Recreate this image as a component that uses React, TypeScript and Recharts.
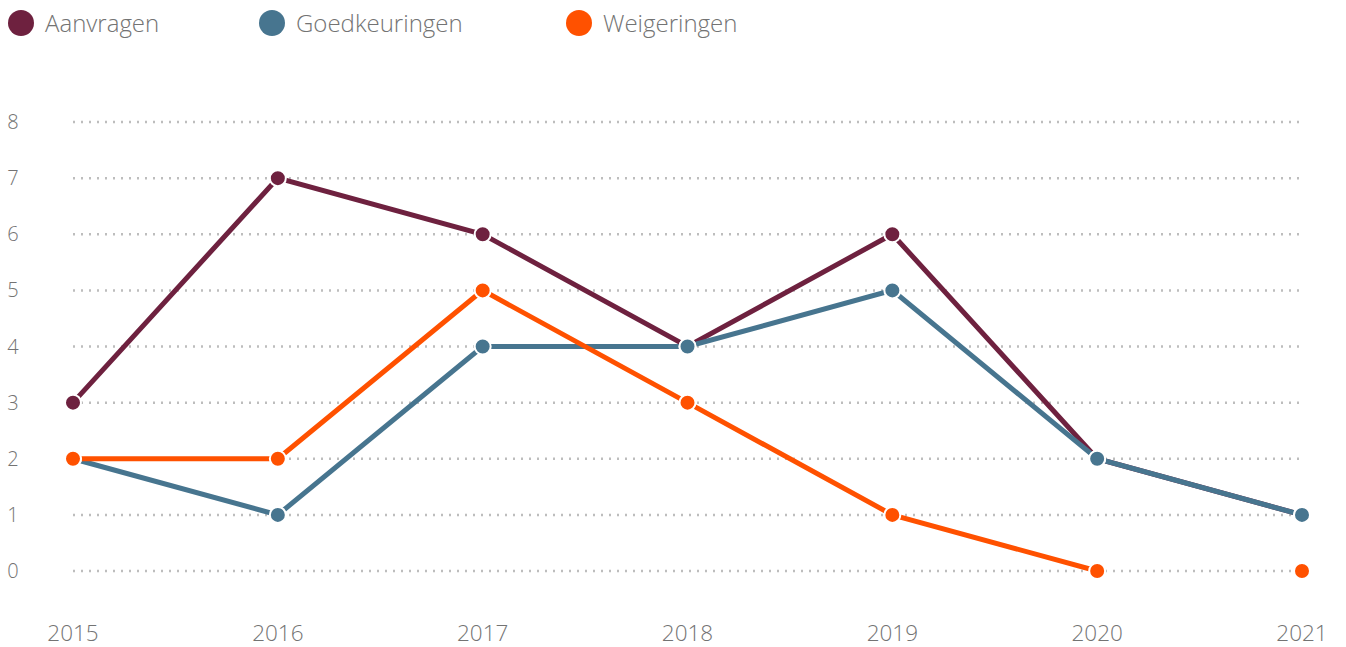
import React from "react";
import { CartesianGrid, Line, LineChart, XAxis, YAxis } from "recharts";

const years = ["2015", "2016", "2017", "2018", "2019", "2020", "2021"];
const aanvragen = [3, 7, 6, 4, 6, 2, 1];
const goedkeuringen = [2, 1, 4, 4, 5, 2, 1];
const weigeringen = [2, 2, 5, 3, 1, 0, 0];
const yTicks = [0, 1, 2, 3, 4, 5, 6, 7, 8];

const series = [
  { key: "aanvragen", name: "Aanvragen", color: "#6e213f" },
  { key: "goedkeuringen", name: "Goedkeuringen", color: "#47758f" },
  { key: "weigeringen", name: "Weigeringen", color: "#ff5100" },
];

// de laatste weigering (2021) staat los, zonder verbindingslijn
const data = years.map((year, i) => ({
  year,
  aanvragen: aanvragen[i],
  goedkeuringen: goedkeuringen[i],
  weigeringen: i < years.length - 1 ? weigeringen[i] : null,
  weigeringenLos: i === years.length - 1 ? weigeringen[i] : null,
}));

const FONT = "'Open Sans', Lato, sans-serif";
const TEXT = "#737373";

function YTick({ y, payload }: any) {
  return (
    <text x={13} y={y} dy={7} textAnchor="middle" fontSize={20} fontWeight={300} fill={TEXT} fontFamily={FONT}>
      {payload.value}
    </text>
  );
}

function XTick({ x, payload }: any) {
  return (
    <text x={x} y={641} textAnchor="middle" fontSize={22.5} fontWeight={300} fill={TEXT} fontFamily={FONT}>
      {payload.value}
    </text>
  );
}

export default function App() {
  const dot = (color: string) => ({ r: 8, fill: color, stroke: "#fff", strokeWidth: 2 });
  return (
    <div style={{ position: "absolute", left: 0, top: 0, width: 1346, height: 647, background: "#fff" }}>
      <div style={{ position: "absolute", left: 0, top: 0, height: 42, fontFamily: FONT }}>
        {series.map((s, i) => (
          <div
            key={s.key}
            style={{
              position: "absolute",
              left: [8, 259, 566][i],
              top: 6,
              display: "flex",
              alignItems: "center",
              whiteSpace: "nowrap",
            }}
          >
            <span style={{ width: 26, height: 26, borderRadius: 13, background: s.color, display: "inline-block" }} />
            <span style={{ marginLeft: 11, fontSize: 24, fontWeight: 300, color: TEXT }}>{s.name}</span>
          </div>
        ))}
      </div>
      <LineChart width={1346} height={647} data={data} margin={{ top: 122, right: 44, left: 0, bottom: 0 }}>
        <CartesianGrid vertical={false} stroke="#bdbdbd" strokeWidth={2.5} strokeDasharray="2 6" />
        <XAxis dataKey="year" axisLine={false} tickLine={false} height={76} tick={<XTick />} interval={0} padding={{ left: 0, right: 0 }} />
        <YAxis domain={[0, 8]} ticks={yTicks} width={73} axisLine={false} tickLine={false} tick={<YTick />} />
        {series.map((s) => (
          <Line
            key={s.key}
            type="linear"
            dataKey={s.key}
            name={s.name}
            stroke={s.color}
            strokeWidth={5}
            dot={dot(s.color)}
            activeDot={false}
            isAnimationActive={false}
          />
        ))}
        <Line
          type="linear"
          dataKey="weigeringenLos"
          stroke="none"
          dot={dot("#ff5100")}
          activeDot={false}
          legendType="none"
          isAnimationActive={false}
        />
      </LineChart>
    </div>
  );
}
